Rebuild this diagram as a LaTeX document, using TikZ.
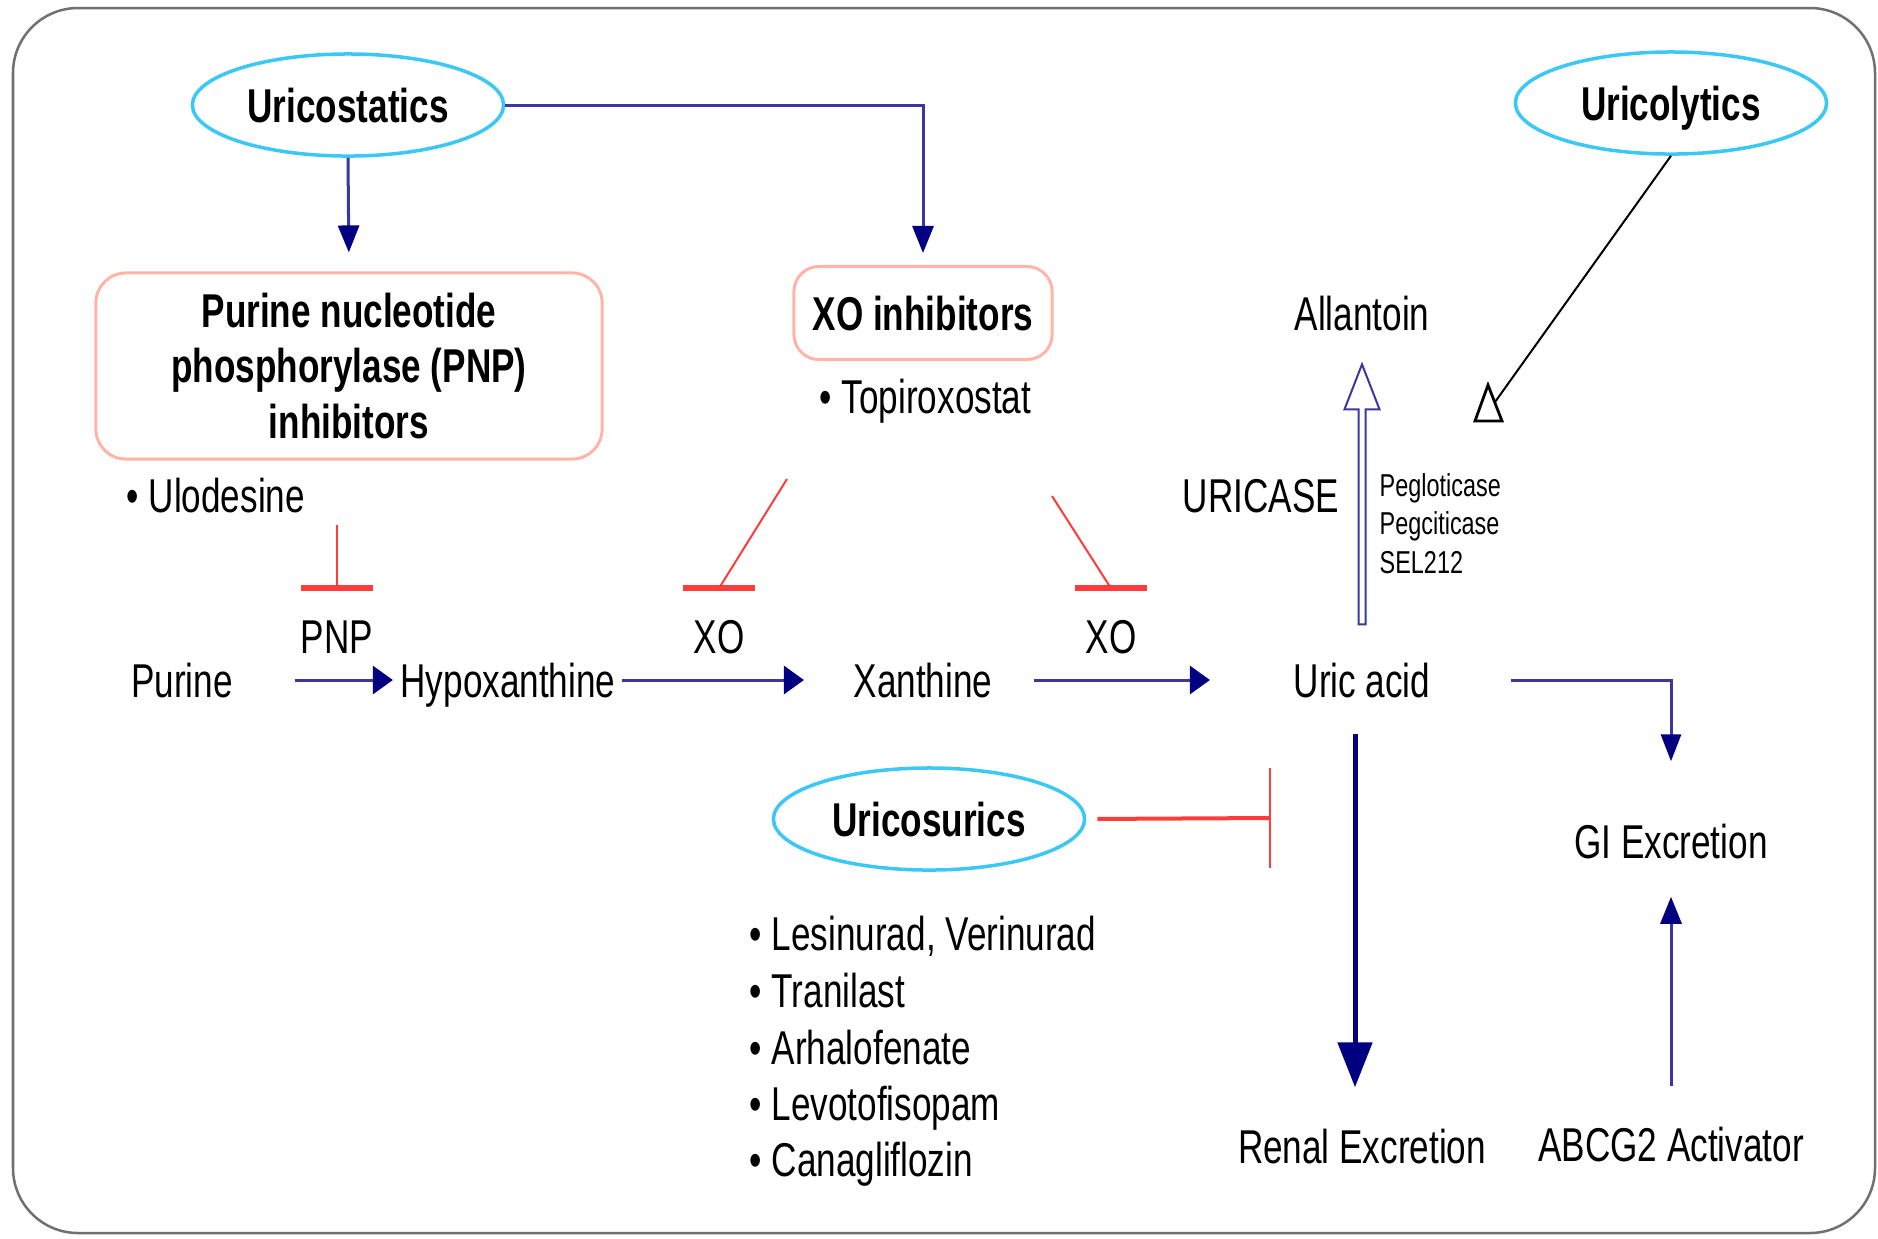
\documentclass[tikz,border=0pt]{standalone}
\usepackage{fontspec}
\setmainfont{Liberation Sans}[FakeStretch=0.74]
\usetikzlibrary{arrows.meta,shapes.geometric,calc}
\definecolor{cyanE}{HTML}{3CC8F5}
\definecolor{pinkB}{HTML}{FFB4A8}
\definecolor{redI}{HTML}{FF3C3C}
\definecolor{navyA}{HTML}{000080}
\definecolor{blueL}{HTML}{3838A0}
\definecolor{grayB}{HTML}{707070}
\begin{document}
\begin{tikzpicture}[x=0.01cm,y=-0.01cm,
  txt/.style={inner sep=0pt, text height=0.34cm, text depth=0pt, font=\fontsize{13.5}{16}\selectfont},
  small/.style={inner sep=0pt, text height=0.23cm, text depth=0pt, anchor=west, font=\fontsize{9}{11}\selectfont},
  oval/.style={ellipse, draw=cyanE, line width=0.035cm, minimum width=3.11cm, minimum height=1.02cm, inner sep=0pt, text height=0.34cm, text depth=0pt, font=\bfseries\fontsize{13.5}{16}\selectfont},
  pbox/.style={draw=pinkB, line width=0.03cm, rounded corners=0.3cm, align=center, inner sep=0pt, font=\bfseries\fontsize{13.5}{15.65}\selectfont},
  ar/.style={draw=blueL, line width=0.03cm, -{Triangle[length=0.2cm, width=0.28cm, color=navyA]}},
  ardown/.style={draw=blueL, line width=0.03cm, -{Triangle[length=0.27cm, width=0.21cm, color=navyA]}},
  inh/.style={draw=redI, line width=0.02cm},
  inhbar/.style={draw=redI, line width=0.06cm},
]
\useasboundingbox (0,0) rectangle (1878,1238);
\fill[white] (0,0) rectangle (1878,1238);
\draw[grayB, line width=0.025cm, rounded corners=0.65cm] (13,8) rectangle (1875,1233);

% ovals
\node[oval] (ucs) at (348,105) {Uricostatics};
\node[oval] (ucl) at (1671,103) {Uricolytics};
\node[oval] (usr) at (929,819) {Uricosurics};

% boxes
\node[pbox, minimum width=5.06cm, minimum height=1.86cm] (pnpbox) at (349,366) {Purine nucleotide\\phosphorylase (PNP)\\inhibitors};
\node[pbox, minimum width=2.58cm, minimum height=0.93cm, rounded corners=0.25cm, text height=0.34cm, text depth=0pt] (xobox) at (923,313) {XO inhibitors};

\node[txt, anchor=west] (topi) at (819,396) {• Topiroxostat};
\node[txt, anchor=west] (ulod) at (126,495) {• Ulodesine};

% pathway
\node[txt] (pnpl) at (337,636) {PNP};
\node[txt] (xo1) at (719,636) {XO};
\node[txt] (xo2) at (1111,636) {XO};
\node[txt] (purine) at (182,680) {Purine};
\node[txt] (hypo) at (508,680) {Hypoxanthine};
\node[txt] (xan) at (923,680) {Xanthine};
\node[txt] (uric) at (1362,680) {Uric acid};
\node[txt] (allan) at (1362,313) {Allantoin};
\node[txt] (uricase) at (1261,495) {URICASE};
\node[small] (peg1) at (1379,485) {Pegloticase};
\node[small] (peg2) at (1379,523) {Pegciticase};
\node[small] (peg3) at (1379,562) {SEL212};
\node[txt] (gi) at (1671,841) {GI Excretion};
\node[txt] (abcg) at (1671,1144) {ABCG2 Activator};
\node[txt] (renal) at (1362,1146) {Renal Excretion};

% uricosurics list
\node[txt, anchor=west] (l1) at (749,933) {• Lesinurad, Verinurad};
\node[txt, anchor=west] (l2) at (749,990) {• Tranilast};
\node[txt, anchor=west] (l3) at (749,1047) {• Arhalofenate};
\node[txt, anchor=west] (l4) at (749,1103) {• Levotofisopam};
\node[txt, anchor=west] (l5) at (749,1159) {• Canagliflozin};

% uricostatics arrows
\draw[ardown, shorten >=0.19cm] (ucs.south) -- (pnpbox.north);
\draw[ardown, shorten >=0.12cm] (ucs.east) -| (xobox.north);

% main row
\draw[ar, shorten <=0.61cm, shorten >=0.07cm] (purine.east) -- (hypo.west);
\draw[ar, shorten <=0.06cm, shorten >=0.49cm] (hypo.east) -- (xan.west);
\draw[ar, shorten <=0.41cm, shorten >=0.83cm] (xan.east) -- (uric.west);
\draw[draw=blueL, line width=0.03cm, -{Triangle[length=0.27cm, width=0.2cm, color=navyA]}, shorten <=0.80cm, shorten >=0.62cm] (uric.east) -| (gi.north);
\draw[ardown, shorten <=0.40cm, shorten >=0.38cm] (abcg.north) -- (gi.south);
\draw[draw=navyA, line width=0.05cm, -{Triangle[length=0.45cm, width=0.34cm, color=navyA]}, shorten <=0.36cm, shorten >=0.41cm] ([xshift=-0.07cm]uric.south) -- ([xshift=-0.07cm]renal.north);

% hollow arrow uric acid -> allantoin
\coordinate (hb) at ($(uric.north)+(0,-38)$);
\draw[blueL, line width=0.02cm, fill=white, line join=miter] ($(hb)+(-3.5,0)$) -- ++(0,-215) -- ++(-14,0) -- ++(17.5,-45) -- ++(17.5,45) -- ++(-14,0) -- ++(0,215) -- cycle;

% uricolytics
\coordinate (ult) at (1495,402);
\draw[black, line width=0.02cm] (ucl.south) -- (ult);
\draw[black, line width=0.028cm, fill=white, line join=miter] (1488,385) -- (1475,421) -- (1502,421) -- cycle;

% inhibitions
\coordinate (p1s) at (337,525);
\coordinate (p1e) at ($(pnpl.north)+(0,-30)$);
\draw[inh] (p1s) -- (p1e);
\draw[inhbar] ($(p1e)+(-36,0)$) -- ($(p1e)+(36,0)$);
\coordinate (x1s) at (787,479);
\coordinate (x1e) at ($(xo1.north)+(0,-30)$);
\draw[inh] (x1s) -- (x1e);
\draw[inhbar] ($(x1e)+(-36,0)$) -- ($(x1e)+(36,0)$);
\coordinate (x2s) at (1052,496);
\coordinate (x2e) at ($(xo2.north)+(0,-30)$);
\draw[inh] (x2s) -- (x2e);
\draw[inhbar] ($(x2e)+(-36,0)$) -- ($(x2e)+(36,0)$);
\coordinate (ub) at (1270,818);
\draw[draw=redI, line width=0.04cm, shorten <=0.11cm] (usr.east) -- (ub);
\draw[inh] ($(ub)+(0,-50)$) -- ($(ub)+(0,50)$);
\end{tikzpicture}
\end{document}
